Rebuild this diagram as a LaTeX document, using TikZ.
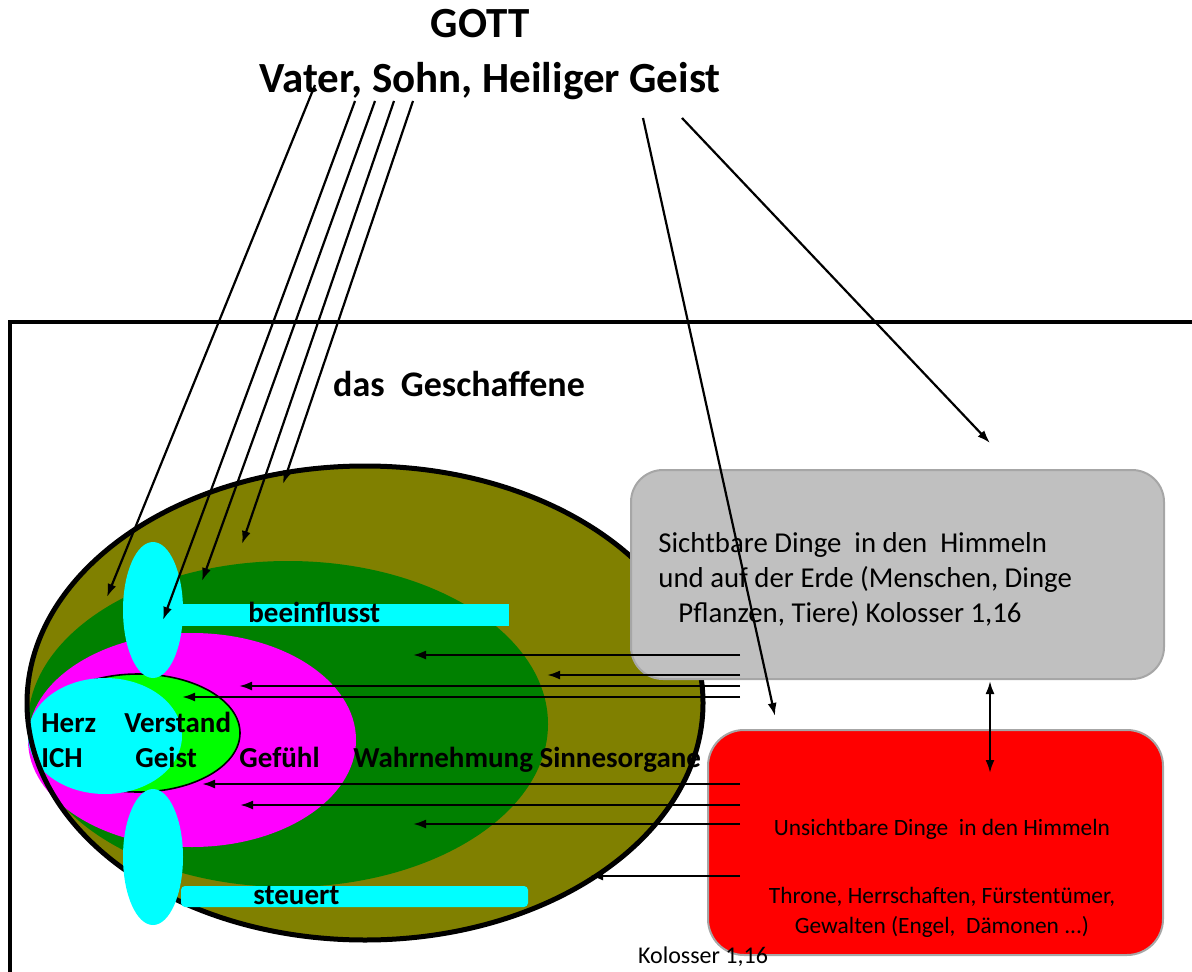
\documentclass[tikz,border=0pt]{standalone}
\usepackage{fontspec}
\setmainfont{Carlito}
\usetikzlibrary{arrows.meta}

\definecolor{dgreen}{RGB}{0,128,0}
\definecolor{lime}{RGB}{0,255,0}
\definecolor{aqua}{RGB}{0,255,255}
\definecolor{pink}{RGB}{255,0,255}
\definecolor{khaki}{RGB}{128,128,0}
\definecolor{boxred}{RGB}{255,0,0}
\definecolor{boxgray}{RGB}{192,192,192}
\definecolor{rimgray}{RGB}{166,166,166}

\tikzset{
  arr/.style={-{Latex[length=6.5pt,width=4.5pt]}, line width=1.1pt},
  dblarr/.style={{Latex[length=6.5pt,width=4.5pt]}-{Latex[length=6.5pt,width=4.5pt]}, line width=1.1pt},
  lbl/.style={font=\bfseries\fontsize{14.5}{17}\selectfont, inner sep=0pt, anchor=base west},
  roundbox/.style={draw=rimgray, line width=1pt, rounded corners=16pt, inner sep=0pt},
}

\begin{document}
\begin{tikzpicture}[x=0.5pt, y=-0.5pt]
  \useasboundingbox (0,0) rectangle (1192,972);
  % Title
  \node[font=\bfseries\fontsize{21.5}{25}\selectfont, anchor=base] (gott) at (480,38) {GOTT};
  \node[font=\bfseries\fontsize{21.5}{25}\selectfont, anchor=base] (trinity) at (490,93) {Vater, Sohn, Heiliger Geist};
  % Frame
  \draw[line width=2pt] (10,975) -- (10,322) -- (1195,322);
  \node[font=\bfseries\fontsize{18}{22}\selectfont, anchor=base] (geschaffen) at (459,397) {das\ \ Geschaffene};
  % Ellipses
  \fill[khaki] (365,703) ellipse [x radius=169pt, y radius=118.5pt];
  \fill[dgreen] (288,724) ellipse [x radius=130pt, y radius=81.5pt];
  \fill[pink] (192,740) ellipse [x radius=82pt, y radius=53.5pt];
  \filldraw[fill=lime, draw=black, line width=0.8pt] (138,733) ellipse [x radius=51pt, y radius=29.5pt];
  \fill[aqua] (105,736) ellipse [x radius=38.5pt, y radius=29pt];
  \draw[line width=2.5pt] (365,703) ellipse [x radius=169pt, y radius=118.5pt];
  % Bars
  \fill[aqua] (153,604) rectangle (509,626);
  \fill[aqua, rounded corners=2pt] (181,886) rectangle (528,907);
  \fill[aqua] (153,610) ellipse [x radius=15pt, y radius=34pt];
  \fill[aqua] (153,857) ellipse [x radius=15pt, y radius=34pt];
  % Labels
  \node[lbl] (beein) at (248,622) {beeinflusst};
  \node[lbl] (steuert) at (253,904) {steuert};
  \node[lbl] (herz) at (41,732) {Herz};
  \node[lbl] (ich) at (41,767) {ICH};
  \node[lbl] (verstand) at (124,732) {Verstand};
  \node[lbl] (geist) at (135,767) {Geist};
  \node[lbl] (gefuehl) at (239,767) {Gefühl};
  \node[lbl] (wahr) at (353,767) {Wahrnehmung Sinnesorgane};
  % Boxes
  \node[roundbox, fill=boxgray, minimum width=266.5pt, minimum height=104.5pt] (sicht) at (897.5,574.5) {};
  \node[roundbox, fill=boxred, rounded corners=18pt, minimum width=227.5pt, minimum height=112.5pt] (unsicht) at (935.5,842.5) {};
  \node[font=\fontsize{14.4}{17.5}\selectfont, align=left, anchor=base west, inner sep=0pt] (sichttext) at (658,622)
    {Sichtbare Dinge\ \ in den\ \ Himmeln\\und auf der Erde (Menschen, Dinge\\\hspace{10pt}Pflanzen, Tiere) Kolosser 1,16};
  \node[font=\fontsize{11.7}{15}\selectfont, align=center, anchor=base, inner sep=0pt] (unsichttext) at (942,933)
    {Unsichtbare Dinge\ \ in den Himmeln\\[19pt]Throne, Herrschaften, Fürstentümer,\\Gewalten (Engel,\ \ Dämonen ...)};
  \node[font=\fontsize{12}{15}\selectfont, anchor=base, inner sep=0pt] (kol) at (703,963) {Kolosser 1,16};
  % Arrows from God
  \coordinate (s1) at (315,85);  \coordinate (e1) at (107,597);
  \coordinate (s2) at (355,101); \coordinate (e2) at (163,620);
  \coordinate (s3) at (375,101); \coordinate (e3) at (202,581);
  \coordinate (s4) at (394,101); \coordinate (e4) at (242,544);
  \coordinate (s5) at (413,101); \coordinate (e5) at (283,484);
  \coordinate (s6) at (643,118); \coordinate (e6) at (775,716);
  \coordinate (s7) at (682,118); \coordinate (e7) at (990,443);
  \draw[arr] (s1) -- (e1);
  \draw[arr] (s2) -- (e2);
  \draw[arr] (s3) -- (e3);
  \draw[arr] (s4) -- (e4);
  \draw[arr] (s5) -- (e5);
  \draw[arr] (s6) -- (e6);
  \draw[arr] (s7) -- (e7);
  % Between the boxes
  \coordinate (d1) at (990,681); \coordinate (d2) at (990,773);
  \draw[dblarr] (d1) -- (d2);
  % Arrows to the left
  \coordinate (r1) at (740,655); \coordinate (l1) at (413,655);
  \coordinate (r2) at (740,675); \coordinate (l2) at (547,675);
  \coordinate (r3) at (740,686); \coordinate (l3) at (239,686);
  \coordinate (r4) at (740,697); \coordinate (l4) at (182,697);
  \coordinate (r5) at (740,784); \coordinate (l5) at (202,784);
  \coordinate (r6) at (740,805); \coordinate (l6) at (240,805);
  \coordinate (r7) at (740,824); \coordinate (l7) at (413,824);
  \coordinate (r8) at (740,876); \coordinate (l8) at (590,876);
  \draw[arr] (r1) -- (l1);
  \draw[arr] (r2) -- (l2);
  \draw[arr] (r3) -- (l3);
  \draw[arr] (r4) -- (l4);
  \draw[arr] (r5) -- (l5);
  \draw[arr] (r6) -- (l6);
  \draw[arr] (r7) -- (l7);
  \draw[arr] (r8) -- (l8);
\end{tikzpicture}
\end{document}
